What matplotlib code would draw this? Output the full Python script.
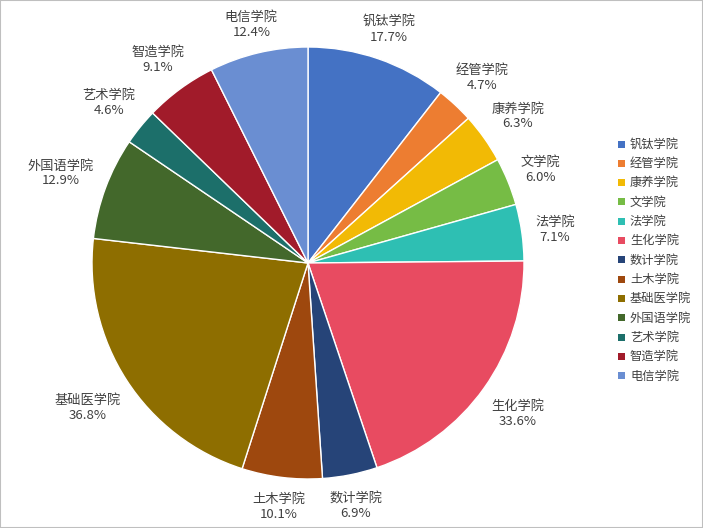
import matplotlib
matplotlib.use("Agg")
import matplotlib.pyplot as plt
from matplotlib.patches import Rectangle
import numpy as np

plt.rcParams['font.family'] = ['Noto Sans CJK SC', 'DejaVu Sans']

categories = ['钒钛学院', '经管学院', '康养学院', '文学院', '法学院', '生化学院', '数计学院',
              '土木学院', '基础医学院', '外国语学院', '艺术学院', '智造学院', '电信学院']
values = [17.7, 4.7, 6.3, 6.0, 7.1, 33.6, 6.9, 10.1, 36.8, 12.9, 4.6, 9.1, 12.4]
colors = ['#4472C4', '#ED7D31', '#F2BA05', '#76BC45', '#2EBFB3', '#E84B61', '#264478',
          '#9E480E', '#8E6E00', '#43682B', '#1C6F6A', '#A11B2A', '#6A8ED2']

W, H = 703, 528
fig = plt.figure(figsize=(W / 100, H / 100), dpi=100)
ax = fig.add_axes([0, 0, 1, 1])

cx, cy, R = 308, H - 263, 216
wedges, _ = ax.pie(values, colors=colors, startangle=90, counterclock=False,
                   center=(cx, cy), radius=R, frame=True,
                   wedgeprops=dict(edgecolor='white', linewidth=1.0))
ax.set_xlim(0, W)
ax.set_ylim(0, H)
ax.set_aspect('auto')
ax.axis('off')

txt_color = '#404040'
fs = 9.5
char_w = 13.2
hh = 13
gap = 12
for w, name, v in zip(wedges, categories, values):
    ang = np.deg2rad((w.theta1 + w.theta2) / 2)
    hw = len(name) * char_w / 2
    d = R + gap + hw * abs(np.cos(ang)) + hh * abs(np.sin(ang))
    x = cx + d * np.cos(ang)
    y = cy + d * np.sin(ang) - 2
    ax.text(x, y, f'{name}\n{v:.1f}%', ha='center', va='center', fontsize=fs,
            color=txt_color, linespacing=1.2)

# legend
lx, ly0, dy = 621, H - 144, 19.33
for i, (name, c) in enumerate(zip(categories, colors)):
    y = ly0 - i * dy
    ax.add_patch(Rectangle((lx - 3.5, y - 3.5), 7, 7, facecolor=c, edgecolor='none'))
    ax.text(lx + 9, y, name, ha='left', va='center', fontsize=8.8, color=txt_color)

fig.patches.append(Rectangle((0, 0), 1, 1, transform=fig.transFigure, fill=False,
                             edgecolor='#BFBFBF', linewidth=1.5))
fig.savefig('out.png', dpi=100, facecolor='white')
